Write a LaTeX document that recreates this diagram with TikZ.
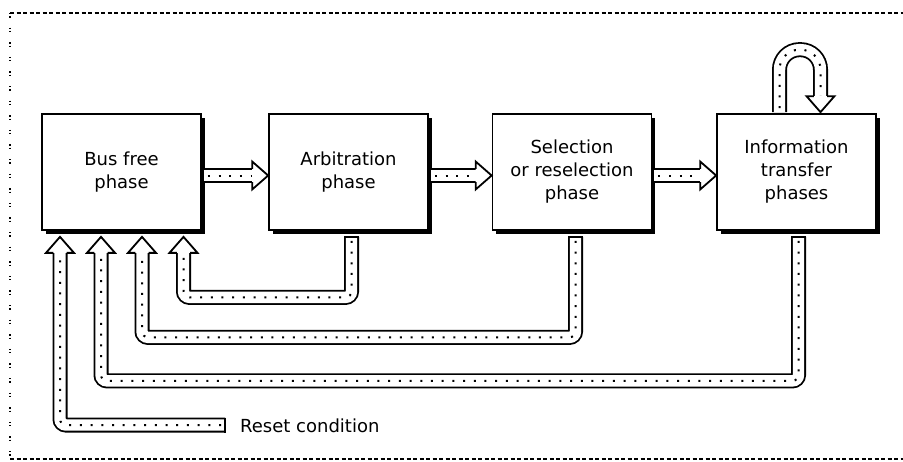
\documentclass[tikz,border=0pt]{standalone}
\usepackage{fontspec}
\setmainfont{DejaVu Sans}
\usetikzlibrary{calc,shadows}
\tikzset{
  box/.style={draw, line width=1.7pt, fill=white, minimum width=159pt, minimum height=116pt,
    inner sep=0pt, align=center, font=\fontsize{18}{23}\selectfont,
    drop shadow={shadow xshift=3.5pt, shadow yshift=-3.5pt, fill=black, opacity=1}},
  shaft/.style={draw=black, line width=1.8pt, double=white, double distance=11.4pt, rounded corners=6pt},
  shaftdots/.style={line width=2pt, dash pattern=on 2pt off 8.7pt, rounded corners=6pt},
  loopshaft/.style={draw=black, line width=1.8pt, double=white, double distance=11.4pt, rounded corners=20pt},
  loopdots/.style={line width=2pt, dash pattern=on 2pt off 8.7pt, rounded corners=20pt},
  endline/.style={line width=1.8pt},
  frameh/.style={line width=1.2pt, dash pattern=on 4pt off 2.5pt},
  framev/.style={line width=1.3pt, dash pattern=on 1.3pt off 2pt on 1.3pt off 10pt},
  lbl/.style={font=\fontsize{18}{23}\selectfont, inner sep=0pt, anchor=west}
}
\newcommand\fathead[2]{%
  \begin{scope}[shift={#1}, rotate=#2]
    \fill[white] (-16,-7.5) -- (-16,-14) -- (0,0) -- (-16,14) -- (-16,7.5) -- cycle;
    \draw[line width=1.8pt, line join=miter] (-16,-6.6) -- (-16,-14) -- (0,0) -- (-16,14) -- (-16,6.6);
  \end{scope}}
\begin{document}
\begin{tikzpicture}[x=1pt, y=-1pt]
\useasboundingbox (0,0) rectangle (903,461);
% frame
\draw[frameh] (10,13) -- (903,13);
\draw[frameh] (10,459) -- (903,459);
\draw[framev] (10,13) -- (10,459);
% boxes
\node[box] (b1) at (121.5,172) {Bus free\\phase};
\node[box] (b2) at (348.5,172) {Arbitration\\phase};
\node[box] (b3) at (572,172) {Selection\\or reselection\\phase};
\node[box] (b4) at (796.5,172) {Information\\transfer\\phases};
% forward arrows
\foreach \s/\t in {b1/b2, b2/b3, b3/b4}{
  \draw[shaft] ($(\s.east)+(2,3.5)$) -- ($(\t.west)+(-15,3.5)$);
  \draw[shaftdots] ($(\s.east)+(6,3.5)$) -- ($(\t.west)+(-15,3.5)$);
  \fathead{($(\t.west)+(0,3.5)$)}{0}
}
% self loop on b4
\coordinate (l1) at ($(b4.north)+(-17,-1)$);
\coordinate (l2) at ($(b4.north)+(-17,-63.5)$);
\coordinate (l3) at ($(b4.north)+(24,-63.5)$);
\coordinate (l4) at ($(b4.north)+(24,-15)$);
\coordinate (l5) at ($(b4.north)+(24,-1)$);
\draw[loopshaft] (l1) -- (l2) -- (l3) -- (l4);
\draw[loopdots] ($(l1)+(0,-4)$) -- (l2) -- (l3) -- (l4);
\fathead{(l5)}{-90}
% feedback from b2
\coordinate (a4s) at ($(b2.south)+(3,6)$);
\coordinate (a4t) at ($(b1.south)+(62,6)$);
\draw[shaft] (a4s) -- ($(a4s)+(0,60.5)$) -- ($(a4t)+(0,60.5)$) -- ($(a4t)+(0,15)$);
\draw[shaftdots] ($(a4s)+(0,4)$) -- ($(a4s)+(0,60.5)$) -- ($(a4t)+(0,60.5)$) -- ($(a4t)+(0,15)$);
\draw[endline] ($(a4s)+(-7.5,0)$) -- ($(a4s)+(7.5,0)$);
\fathead{(a4t)}{90}
% feedback from b3
\coordinate (a3s) at ($(b3.south)+(3.5,6)$);
\coordinate (a3t) at ($(b1.south)+(20.5,6)$);
\draw[shaft] (a3s) -- ($(a3s)+(0,100.5)$) -- ($(a3t)+(0,100.5)$) -- ($(a3t)+(0,15)$);
\draw[shaftdots] ($(a3s)+(0,4)$) -- ($(a3s)+(0,100.5)$) -- ($(a3t)+(0,100.5)$) -- ($(a3t)+(0,15)$);
\draw[endline] ($(a3s)+(-7.5,0)$) -- ($(a3s)+(7.5,0)$);
\fathead{(a3t)}{90}
% feedback from b4
\coordinate (a2s) at ($(b4.south)+(2,6)$);
\coordinate (a2t) at ($(b1.south)+(-20.5,6)$);
\draw[shaft] (a2s) -- ($(a2s)+(0,144)$) -- ($(a2t)+(0,144)$) -- ($(a2t)+(0,15)$);
\draw[shaftdots] ($(a2s)+(0,4)$) -- ($(a2s)+(0,144)$) -- ($(a2t)+(0,144)$) -- ($(a2t)+(0,15)$);
\draw[endline] ($(a2s)+(-7.5,0)$) -- ($(a2s)+(7.5,0)$);
\fathead{(a2t)}{90}
% reset condition
\node[lbl] (reset) at (240,426) {Reset condition};
\coordinate (a1s) at ($(reset.west)+(-15,-1)$);
\coordinate (a1t) at ($(b1.south)+(-61.5,6)$);
\draw[shaft] (a1s) -- (a1t |- a1s) -- ($(a1t)+(0,15)$);
\draw[shaftdots] ($(a1s)+(-4,0)$) -- (a1t |- a1s) -- ($(a1t)+(0,15)$);
\draw[endline] ($(a1s)+(0,-7.5)$) -- ($(a1s)+(0,7.5)$);
\fathead{(a1t)}{90}
\end{tikzpicture}
\end{document}
